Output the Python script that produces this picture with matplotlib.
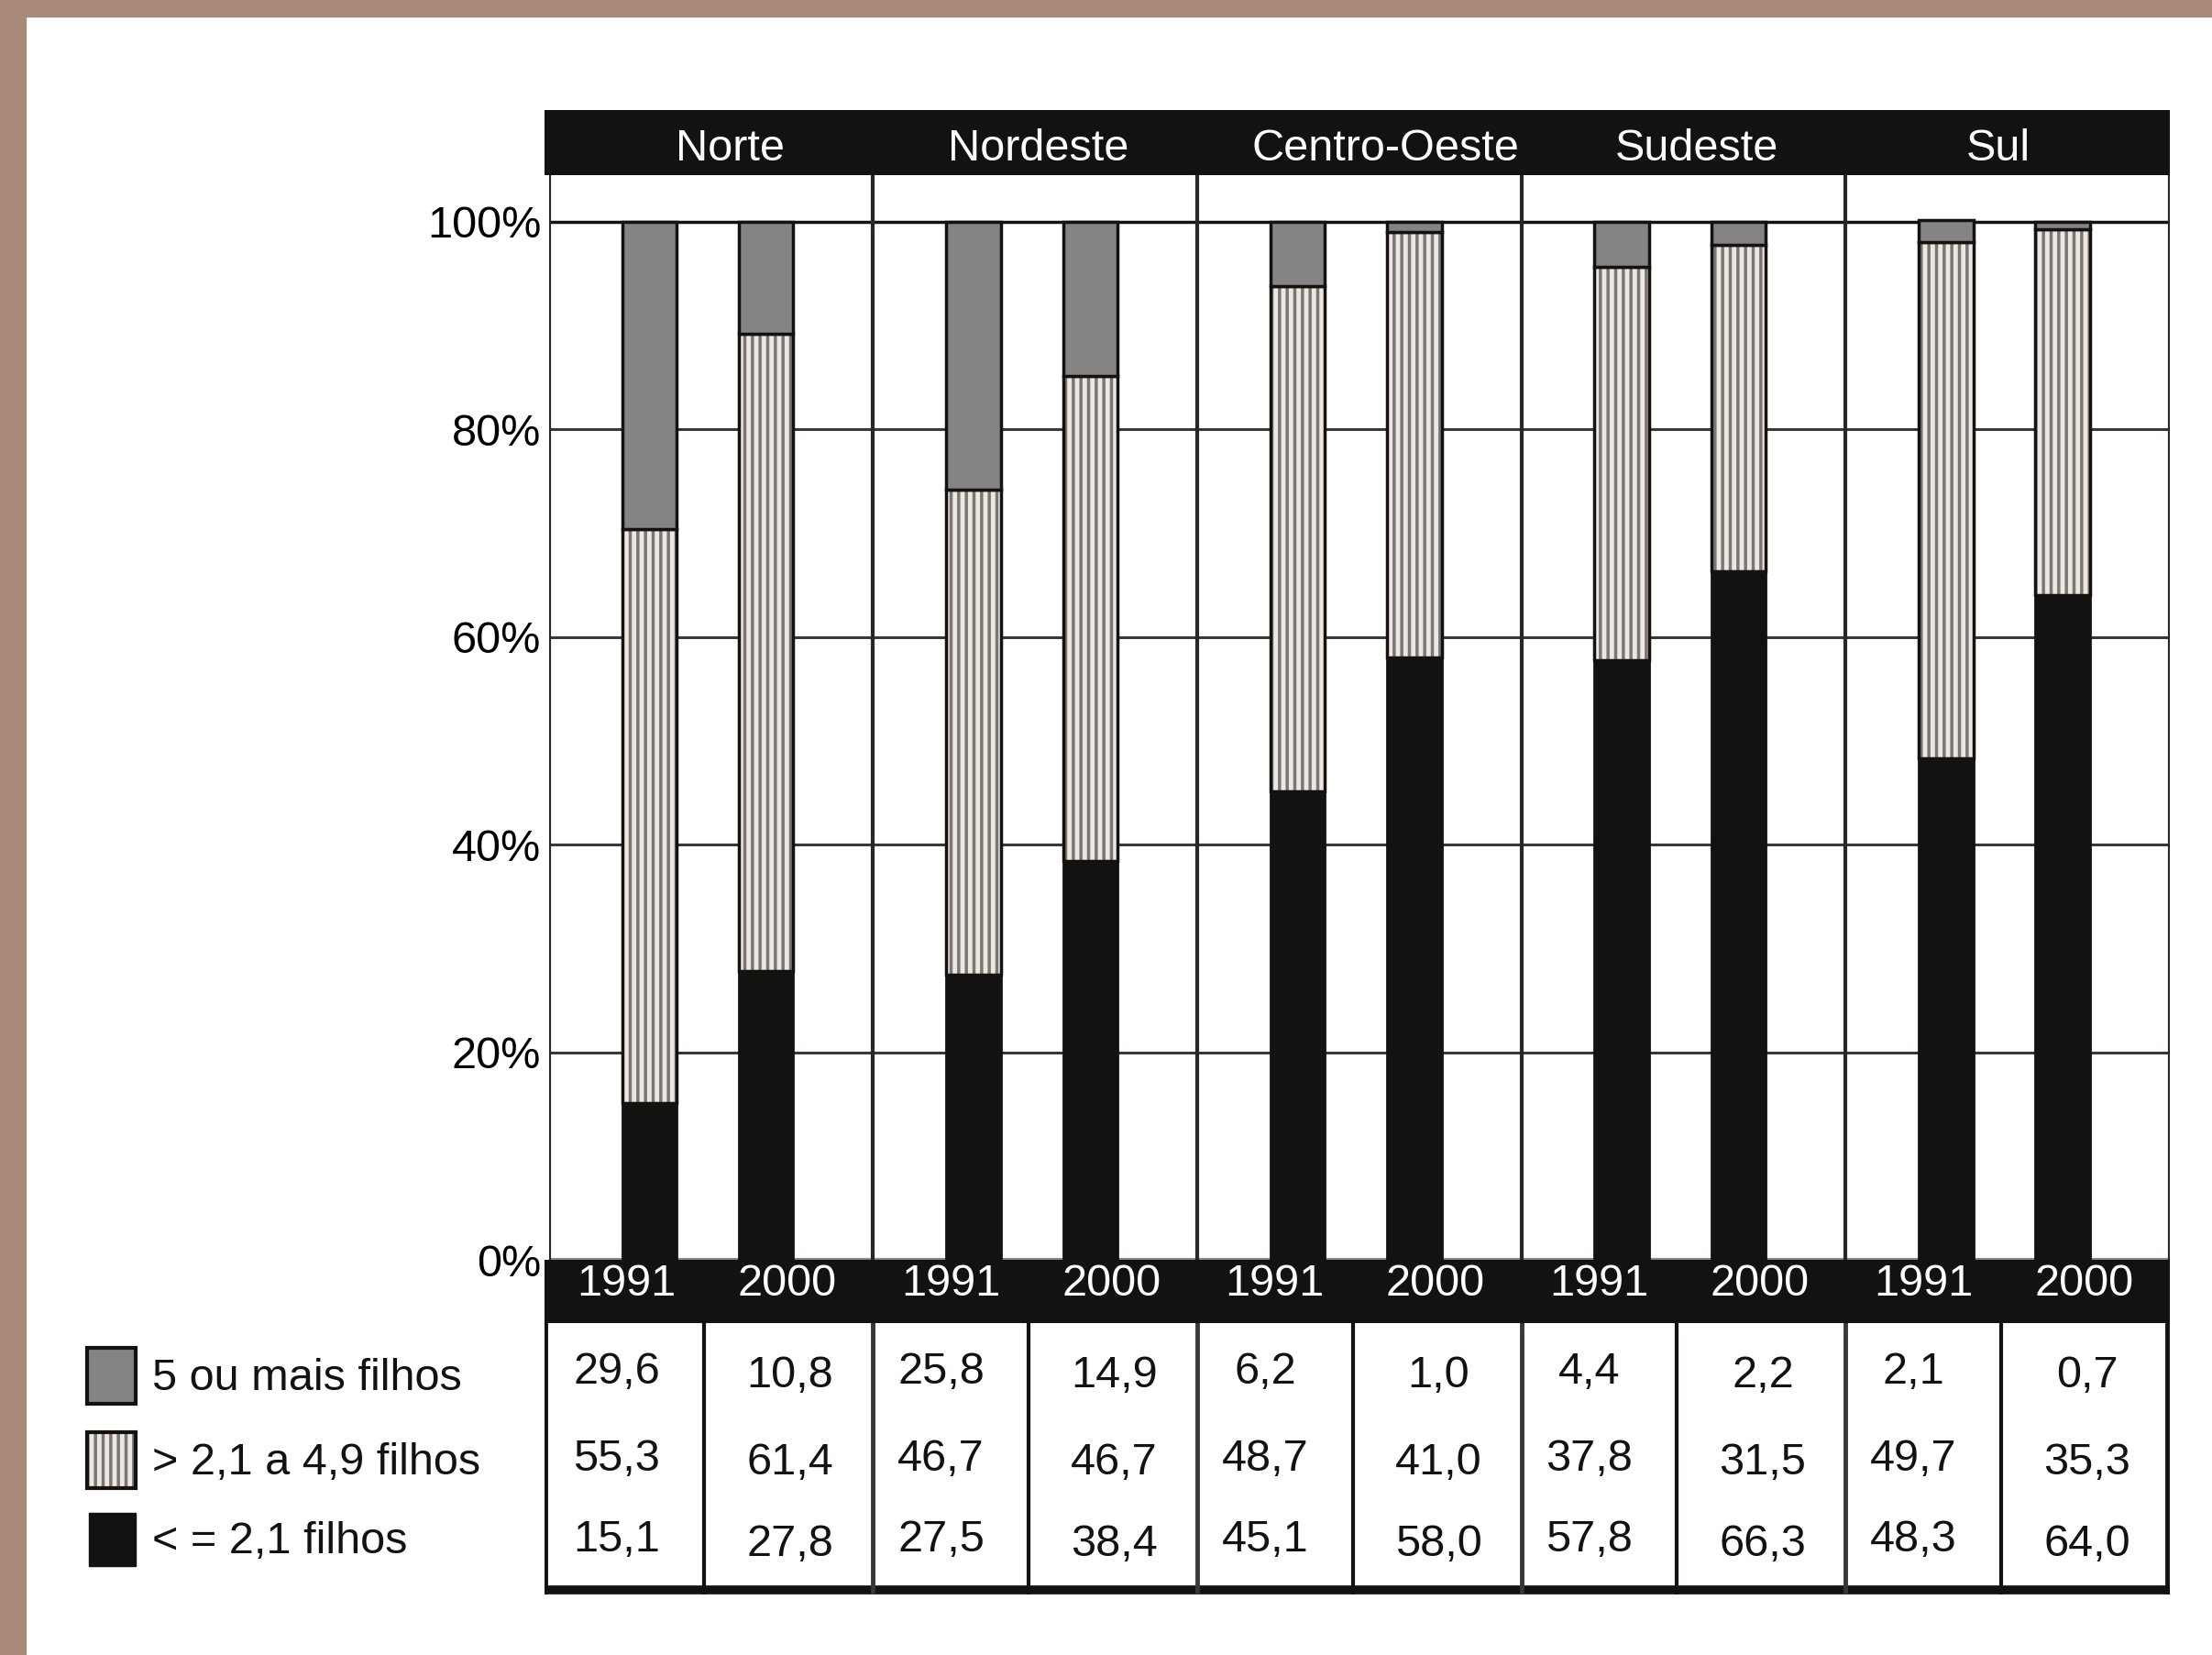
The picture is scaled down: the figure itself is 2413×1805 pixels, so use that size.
import matplotlib
matplotlib.use("Agg")
import matplotlib.pyplot as plt
from matplotlib.patches import Rectangle
import numpy as np

plt.rcParams['font.family'] = ['Liberation Sans', 'DejaVu Sans']
plt.rcParams['hatch.linewidth'] = 2.5

regioes = ["Norte", "Nordeste", "Centro-Oeste", "Sudeste", "Sul"]
anos = ["1991", "2000"]
# percentuais por regiao/ano (1991, 2000, 1991, 2000, ...)
cinco_ou_mais = [29.6, 10.8, 25.8, 14.9, 6.2, 1.0, 4.4, 2.2, 2.1, 0.7]
de_21_a_49 = [55.3, 61.4, 46.7, 46.7, 48.7, 41.0, 37.8, 31.5, 49.7, 35.3]
ate_21 = [15.1, 27.8, 27.5, 38.4, 45.1, 58.0, 57.8, 66.3, 48.3, 64.0]
legenda = ["5 ou mais filhos", "> 2,1 a 4,9 filhos", "< = 2,1 filhos"]
y_ticks = [0, 20, 40, 60, 80, 100]

BLACK = "#141210"
GRAY = "#858383"
HATCH_FACE = "#ece8df"
HATCH_LINE = "#7a7676"
BROWN = "#a98a7a"
FS = 35

W, H = 1568, 1173  # layout measured on the shrunk reference


def fx(px):
    return px / W


def fy(py):
    return 1 - py / H


fig = plt.figure(figsize=(24.13, 18.05), dpi=100)
fig.patch.set_facecolor("white")
# brown frame
fig.patches.append(Rectangle((0, fy(12)), 1, 1 - fy(12), transform=fig.transFigure,
                             color=BROWN, zorder=0))
fig.patches.append(Rectangle((0, 0), fx(18), 1, transform=fig.transFigure,
                             color=BROWN, zorder=0))

L, R = 389, 1538
n = len(regioes)
pos = np.array([[i + 0.31, i + 0.67] for i in range(n)]).ravel()
bw = 0.168
head_x = [0.56, 1.51, 2.58, 3.54, 4.47]

# ---- main plot
ax = fig.add_axes([fx(L), fy(893), fx(R - L), fy(124) - fy(893)])
ax.set_xlim(0, n)
ax.set_ylim(0, (893 - 124) / 7.36)
for s in ax.spines.values():
    s.set_visible(False)
ax.set_xticks([])
ax.set_yticks(y_ticks)
ax.set_yticklabels([f"{t}%" for t in y_ticks], fontsize=FS)
ax.tick_params(axis="y", length=0, pad=6)
for t in y_ticks[1:-1]:
    ax.axhline(t, color="#3a3838", lw=2.2, zorder=0)
ax.axhline(100, color=BLACK, lw=2.5, zorder=0)
ax.axhline(0, color="#8a8888", lw=3, zorder=0)
for i in range(n + 1):
    ax.axvline(i, color="#2a2626", lw=3, zorder=0)

b1 = np.array(ate_21)
b2 = b1 + np.array(de_21_a_49)
ax.bar(pos, ate_21, bw, color=BLACK, edgecolor=BLACK, lw=2, zorder=2)
ax.bar(pos, de_21_a_49, bw, bottom=b1, color=HATCH_FACE, edgecolor=HATCH_LINE,
       hatch="||", lw=0, zorder=2)
ax.bar(pos, de_21_a_49, bw, bottom=b1, fill=False, edgecolor=BLACK, lw=2.5, zorder=3)
ax.bar(pos, cinco_ou_mais, bw, bottom=b2, color=GRAY, edgecolor=BLACK, lw=2.5, zorder=3)

# ---- header band
axh = fig.add_axes([fx(386), fy(124), fx(R - 386), fy(78) - fy(124)])
axh.set_xlim(-(L - 386) / (R - L) * n, n)
axh.set_ylim(1, 0)
axh.set_facecolor(BLACK)
axh.set_xticks([])
axh.set_yticks([])
for s in axh.spines.values():
    s.set_visible(False)
for r, x in zip(regioes, head_x):
    axh.text(x, 0.6, r, color="white", fontsize=FS, ha="center", va="center")

# ---- year band
axy = fig.add_axes([fx(386), fy(938), fx(R - 386), fy(893) - fy(938)])
axy.set_xlim(-(L - 386) / (R - L) * n, n)
axy.set_ylim(1, 0)
axy.set_facecolor(BLACK)
axy.set_xticks([])
axy.set_yticks([])
for s in axy.spines.values():
    s.set_visible(False)
for i in range(n):
    for j, a in enumerate(anos):
        axy.text(i + (0.24 if j == 0 else 0.735), 0.38, a, color="white", fontsize=FS,
                 ha="center", va="center")

# ---- table
axt = fig.add_axes([fx(386), fy(1130), fx(R - 386), fy(938) - fy(1130)])
axt.set_xlim(-(L - 386) / (R - L) * n, n)
axt.set_ylim(1, 0)
axt.set_xticks([])
axt.set_yticks([])
for s in axt.spines.values():
    s.set_visible(False)
axt.axhline(0.985, color=BLACK, lw=7)
axt.axvline(-0.01, color=BLACK, lw=3.5)
axt.axvline(n - 0.008, color=BLACK, lw=3.5)
for i in range(1, n):
    axt.axvline(i, color="#3a3636", lw=3.5)
for i in range(n):
    axt.axvline(i + 0.48, color=BLACK, lw=3)
rows = [cinco_ou_mais, de_21_a_49, ate_21]
row_y = [0.18, 0.50, 0.80]
for r, vals in enumerate(rows):
    for k, v in enumerate(vals):
        i, j = divmod(k, 2)
        x = i + (0.21 if j == 0 else 0.745)
        y = row_y[r] + (0.0 if j == 0 else 0.015)
        axt.text(x, y, f"{v:.1f}".replace(".", ","), fontsize=FS,
                 ha="center", va="center", color=BLACK)

# ---- legend
axl = fig.add_axes([fx(40), fy(1130), fx(340), fy(940) - fy(1130)])
axl.set_xlim(40, 380)
axl.set_ylim(1130, 940)
axl.axis("off")
sq_y = [(955, 995), (1015, 1055), (1072, 1110)]
axl.add_patch(Rectangle((62, sq_y[0][0]), 34, 40, facecolor=GRAY, edgecolor=BLACK, lw=3))
axl.add_patch(Rectangle((62, sq_y[1][0]), 34, 40, facecolor=HATCH_FACE, edgecolor=HATCH_LINE,
                        hatch="||", lw=0))
axl.add_patch(Rectangle((62, sq_y[1][0]), 34, 40, fill=False, edgecolor=BLACK, lw=3))
axl.add_patch(Rectangle((63, sq_y[2][0]), 33, 38, facecolor=BLACK, edgecolor=BLACK, lw=1))
for lab, (y0, y1) in zip(legenda, sq_y):
    axl.text(108, (y0 + y1) / 2 + 2, lab, fontsize=FS,
             ha="left", va="center", color=BLACK)

fig.savefig("out.png", dpi=100)
